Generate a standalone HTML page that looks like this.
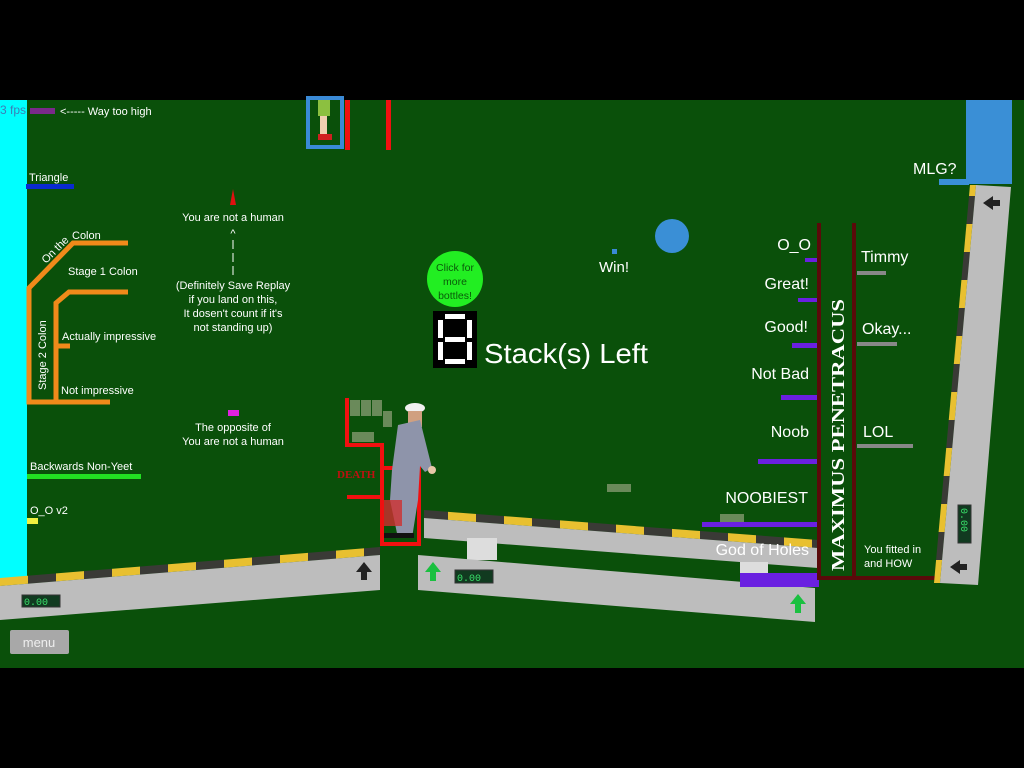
<!DOCTYPE html>
<html><head><meta charset="utf-8"><style>
html,body{margin:0;padding:0;background:#000;}
svg{display:block;font-family:"Liberation Sans",sans-serif;}
</style></head><body>
<svg width="1024" height="768" viewBox="0 0 1024 768" xmlns="http://www.w3.org/2000/svg">
<defs>
<pattern id="hz" width="56" height="10" patternUnits="userSpaceOnUse"><rect width="56" height="10" fill="#3a3a36"/><rect width="28" height="10" fill="#e8c030"/></pattern>
<pattern id="vz" width="10" height="56" patternUnits="userSpaceOnUse"><rect width="10" height="56" fill="#3a3a36"/><rect width="10" height="28" fill="#e8c030"/></pattern>
</defs>
<rect x="0" y="0" width="1024" height="768" fill="#000"/>
<rect x="0" y="100" width="1024" height="568" fill="#0a500a"/>
<rect x="0" y="100" width="27" height="480" fill="#00ffff"/>
<text x="0" y="114" font-size="12" fill="#3a7fb8">3 fps</text>
<rect x="30" y="108" width="25" height="6" fill="#7a2a8a"/>
<text x="60" y="115" font-size="11" fill="#fff">&lt;----- Way too high</text>
<text x="29" y="181" font-size="11" fill="#fff">Triangle</text>
<rect x="26" y="184" width="48" height="5" fill="#0a2ad0"/>
<g stroke="#f08a1a" stroke-width="5" fill="none">
<polyline points="128,243 73,243 29,288 29,402 110,402"/>
<polyline points="128,292 69,292 56,303 56,400"/>
<line x1="56" y1="346" x2="70" y2="346"/>
</g>
<text x="0" y="0" font-size="11" fill="#fff" transform="translate(46,264) rotate(-45)">On the</text>
<text x="72" y="239" font-size="11" fill="#fff">Colon</text>
<text x="68" y="275" font-size="11" fill="#fff">Stage 1 Colon</text>
<text x="0" y="0" font-size="11" fill="#fff" transform="translate(46,390) rotate(-90)">Stage 2 Colon</text>
<text x="62" y="340" font-size="11" fill="#fff">Actually impressive</text>
<text x="61" y="394" font-size="11" fill="#fff">Not impressive</text>
<text x="30" y="470" font-size="11" fill="#fff">Backwards Non-Yeet</text>
<rect x="27" y="474" width="114" height="5" fill="#22e022"/>
<text x="30" y="514" font-size="11" fill="#fff">O_O v2</text>
<rect x="27" y="518" width="11" height="6" fill="#f0f040"/>
<polygon points="233,189 230,205 236,205" fill="#e01010"/>
<g font-size="11" fill="#fff" text-anchor="middle">
<text x="233" y="221">You are not a human</text>
<text x="233" y="237">^</text>
<line x1="233" y1="240" x2="233" y2="276" stroke="#fff" stroke-width="1" stroke-dasharray="9,4"/>
<text x="233" y="289">(Definitely Save Replay</text>
<text x="233" y="303">if you land on this,</text>
<text x="233" y="317">It dosen't count if it's</text>
<text x="233" y="331">not standing up)</text>
<text x="233" y="431">The opposite of</text>
<text x="233" y="445">You are not a human</text>
</g>
<rect x="228" y="410" width="11" height="6" fill="#e020e0"/>
<rect x="308" y="98" width="34" height="49" fill="none" stroke="#3a8ad6" stroke-width="4"/>
<rect x="318" y="100" width="12" height="16" fill="#8cc040"/>
<rect x="320" y="116" width="7" height="20" fill="#f0d0b0"/>
<rect x="318" y="134" width="14" height="6" fill="#d02020"/>
<rect x="345" y="100" width="5" height="50" fill="#f01010"/>
<rect x="386" y="100" width="5" height="50" fill="#f01010"/>
<circle cx="455" cy="279" r="28" fill="#22ee22"/>
<g font-size="10.5" fill="#0a5a0a" text-anchor="middle">
<text x="455" y="271">Click for</text><text x="455" y="285">more</text><text x="455" y="299">bottles!</text>
</g>
<rect x="433" y="311" width="44" height="57" fill="#000"/>
<g fill="#fff">
<rect x="445" y="314" width="20" height="5"/>
<rect x="438" y="320" width="5" height="18"/>
<rect x="467" y="320" width="5" height="18"/>
<rect x="445" y="337" width="20" height="5"/>
<rect x="438" y="342" width="5" height="18"/>
<rect x="467" y="342" width="5" height="18"/>
<rect x="445" y="359" width="20" height="5"/>
</g>
<text x="484" y="363" font-size="28" fill="#fff" textLength="164" lengthAdjust="spacingAndGlyphs">Stack(s) Left</text>
<rect x="612" y="249" width="5" height="5" fill="#3a8ad6"/>
<text x="599" y="272" font-size="15" fill="#fff">Win!</text>
<circle cx="672" cy="236" r="17" fill="#3a8fd6"/>
<polyline points="347,398 347,445 382,445 382,544 419,544 419,468 382,468" fill="none" stroke="#f01010" stroke-width="4"/>
<line x1="347" y1="497" x2="382" y2="497" stroke="#f01010" stroke-width="4"/>
<text x="337" y="478" font-size="11" font-weight="bold" font-family="Liberation Serif,serif" fill="#c01010">DEATH</text>
<g fill="#6a8a5a"><rect x="350" y="400" width="10" height="16"/><rect x="361" y="400" width="10" height="16"/><rect x="372" y="400" width="10" height="16"/><rect x="383" y="411" width="9" height="16"/><rect x="352" y="432" width="22" height="10"/></g>
<ellipse cx="415" cy="408" rx="10" ry="5" fill="#f0f0f0"/>
<rect x="408" y="411" width="14" height="16" fill="#d0a080"/>
<polygon points="398,425 420,420 432,468 425,472 420,466 418,500 412,538 398,538 390,500 392,470" fill="#8e94aa"/>
<circle cx="432" cy="470" r="4" fill="#e8c8a8"/>
<rect x="384" y="533" width="30" height="5" fill="#111"/>
<rect x="384" y="500" width="18" height="26" fill="#d03030" opacity=".8"/>
<polygon points="0,578 380,547 380,555 0,586" fill="url(#hz)"/>
<polygon points="0,586 380,555 380,590 0,620" fill="#bdbdbd"/>
<polygon points="364,562 356,572 361,572 361,580 367,580 367,572 372,572" fill="#222"/>
<rect x="22" y="595" width="38" height="12" fill="#113a20" stroke="#333"/>
<text x="24" y="605" font-size="10" fill="#3ae06a" font-family="Liberation Mono,monospace">0.00</text>
<polygon points="424,510 818,540 818,548 424,518" fill="url(#hz)"/>
<polygon points="424,518 818,548 818,568 424,538" fill="#bdbdbd"/>
<rect x="467" y="538" width="30" height="22" fill="#ddd"/>
<rect x="740" y="562" width="28" height="20" fill="#ddd"/>
<polygon points="418,555 815,588 815,622 418,590" fill="#bdbdbd"/>
<polygon points="433,562 425,572 430,572 430,581 436,581 436,572 441,572" fill="#1ac040"/>
<polygon points="798,594 790,604 795,604 795,613 801,613 801,604 806,604" fill="#1ac040"/>
<rect x="455" y="570" width="38" height="13" fill="#113a20" stroke="#333"/>
<text x="457" y="581" font-size="10" fill="#3ae06a" font-family="Liberation Mono,monospace">0.00</text>
<g fill="#6a20e0">
<rect x="805" y="258" width="14" height="4"/>
<rect x="798" y="298" width="21" height="4"/>
<rect x="792" y="343" width="27" height="5"/>
<rect x="781" y="395" width="38" height="5"/>
<rect x="758" y="459" width="61" height="5"/>
<rect x="702" y="522" width="117" height="5"/>
<rect x="740" y="573" width="79" height="14"/>
</g>
<g fill="#888"><rect x="857" y="271" width="29" height="4"/><rect x="857" y="342" width="40" height="4"/><rect x="857" y="444" width="56" height="4"/></g>
<rect x="607" y="484" width="24" height="8" fill="#6a8a5a"/><rect x="720" y="514" width="24" height="8" fill="#6a8a5a"/>
<g fill="#5a0a0a"><rect x="817" y="223" width="4" height="357"/><rect x="852" y="223" width="4" height="357"/><rect x="817" y="576" width="118" height="4"/></g>
<g fill="#fff" font-size="16" text-anchor="end">
<text x="811" y="250">O_O</text>
<text x="809" y="289">Great!</text>
<text x="808" y="332">Good!</text>
<text x="809" y="379">Not Bad</text>
<text x="809" y="437">Noob</text>
<text x="808" y="503">NOOBIEST</text>
<text x="809" y="555">God of Holes</text>
</g>
<g fill="#fff" font-size="16">
<text x="861" y="262">Timmy</text>
<text x="862" y="334">Okay...</text>
<text x="863" y="437">LOL</text>
</g>
<text x="864" y="553" font-size="11" fill="#fff">You fitted in</text>
<text x="864" y="567" font-size="11" fill="#fff">and HOW</text>
<text x="0" y="0" font-size="18" font-weight="bold" font-family="Liberation Serif,serif" fill="#fff" transform="translate(844,571) rotate(-90)" textLength="272" lengthAdjust="spacingAndGlyphs">MAXIMUS PENETRACUS</text>
<rect x="966" y="100" width="46" height="84" fill="#3a8fd6"/>
<rect x="939" y="179" width="30" height="6" fill="#3a8fd6"/>
<text x="913" y="174" font-size="16" fill="#fff">MLG?</text>
<polygon points="970,185 976,185 940,583 934,583" fill="url(#vz)"/>
<polygon points="976,185 1011,187 978,585 940,583" fill="#bdbdbd"/>
<polygon points="983,203 993,196 993,200 1000,200 1000,206 993,206 993,210" fill="#222"/>
<polygon points="950,567 960,560 960,564 967,564 967,570 960,570 960,574" fill="#222"/>
<rect x="958" y="505" width="13" height="38" fill="#113a20" stroke="#333"/>
<text x="0" y="0" font-size="10" fill="#3ae06a" font-family="Liberation Mono,monospace" transform="translate(961,508) rotate(90)">0.00</text>
<rect x="10" y="630" width="59" height="24" rx="2" fill="#a8a8a8"/>
<text x="39" y="647" font-size="13" fill="#eee" text-anchor="middle">menu</text>
</svg>
</body></html>
